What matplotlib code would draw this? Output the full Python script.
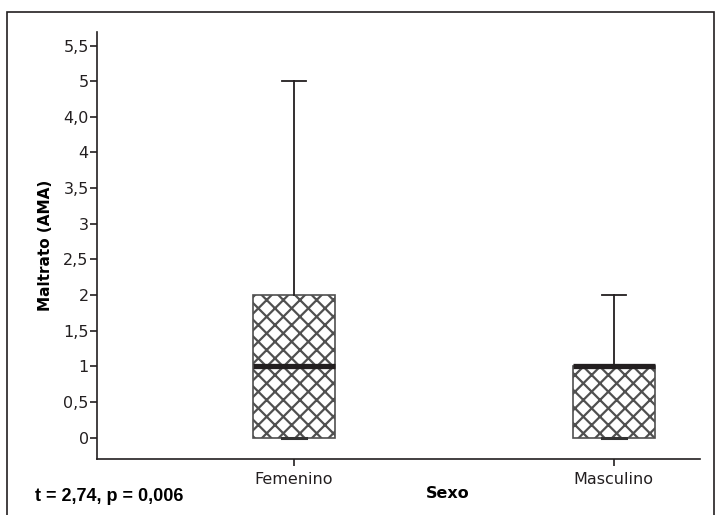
import matplotlib
matplotlib.use("Agg")
import matplotlib.pyplot as plt
from matplotlib.patches import Rectangle

# data
groups = ["Femenino", "Masculino"]
q1 = [0, 0]
medians = [1, 1]
q3 = [2, 1]
whis_lo = [0, 0]
whis_hi = [5, 2]

ytick_vals = [0, 0.5, 1, 1.5, 2, 2.5, 3, 3.5, 4, 4.5, 5, 5.5]
ytick_labels = ["0", "0,5", "1", "1,5", "2", "2,5", "3", "3,5", "4", "4,0", "5", "5,5"]

plt.rcParams["font.family"] = ["DejaVu Sans"]
plt.rcParams["hatch.linewidth"] = 1.6

fig = plt.figure(figsize=(7.21, 5.15), dpi=100)
ax = fig.add_axes([0.1345, 0.1087, 0.8364, 0.8292])

stats = []
for g, a, m, b, lo, hi in zip(groups, q1, medians, q3, whis_lo, whis_hi):
    stats.append(dict(label=g, q1=a, med=m, q3=b, whislo=lo, whishi=hi, fliers=[]))

pos = [1, 2]
bp = ax.bxp(stats, positions=pos, widths=0.256, patch_artist=True,
            showfliers=False, capwidths=0.075,
            boxprops=dict(facecolor="white", edgecolor="#505050", linewidth=1.2, hatch="xx"),
            medianprops=dict(color="#231f20", linewidth=3.8, solid_capstyle="butt"),
            whiskerprops=dict(color="#231f20", linewidth=1.3),
            capprops=dict(color="#231f20", linewidth=1.3))

# lower caps sit on the box bottom and are a bit thicker
for i in range(len(pos)):
    lo_cap = bp["caps"][2 * i]
    lo_cap.set_linewidth(2.2)
    lo_cap.set_color("#333333")

ax.set_xlim(0.384, 2.27)
ax.set_ylim(-0.3, 5.69)
ax.set_yticks(ytick_vals)
ax.set_yticklabels(ytick_labels)
ax.set_xticks(pos)
ax.set_xticklabels(groups)

for s in ["top", "right"]:
    ax.spines[s].set_visible(False)
for s in ["left", "bottom"]:
    ax.spines[s].set_linewidth(1.2)
    ax.spines[s].set_color("#231f20")

ax.tick_params(axis="y", length=5, width=1.2, pad=1, labelsize=11.5, colors="#231f20")
ax.tick_params(axis="x", length=5, width=1.2, pad=4, labelsize=11.5, colors="#231f20")

ax.set_ylabel("Maltrato (AMA)", fontsize=11, fontweight="bold", labelpad=7)
ax.set_xlabel("Sexo", fontsize=11.5, fontweight="bold")
ax.xaxis.set_label_coords(0.582, -0.064)

fig.text(0.048, 0.035, "t = 2,74, p = 0,006", fontsize=13, fontweight="bold",
         family=["Liberation Sans", "DejaVu Sans"], ha="left", va="center")

# outer frame (bottom edge falls outside the picture)
fig.add_artist(Rectangle((0.0097, -0.02), 0.9806, 0.9964, transform=fig.transFigure,
                         fill=False, edgecolor="#231f20", linewidth=1.2))

fig.savefig("out.png", dpi=100)
